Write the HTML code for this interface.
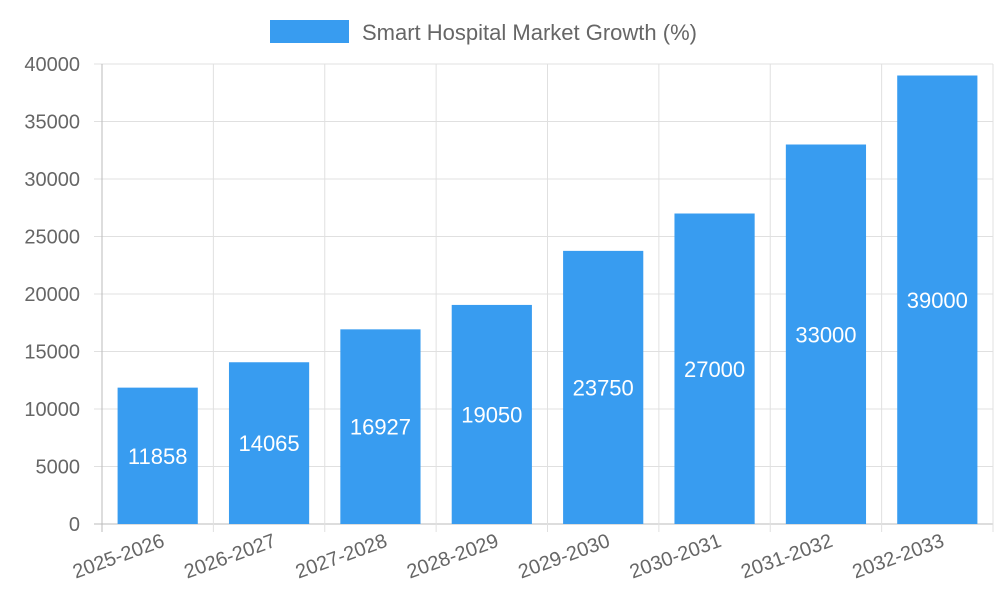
<!DOCTYPE html>
<html><head><meta charset="utf-8"><style>
body{margin:0;background:#fff;font-family:"Liberation Sans",sans-serif}
svg text{font-family:"Liberation Sans",sans-serif}
</style></head><body>
<svg id="chart" width="1000" height="600" xmlns="http://www.w3.org/2000/svg">
<g>
<rect x="270" y="20" width="79" height="23" fill="#389cf0"/>
<text x="362" y="40" font-size="22" fill="#666">Smart Hospital Market Growth (%)</text>
</g>
<g id="grid"></g><g id="bars"></g><g id="labels"></g>
</svg>
<script>
const categories=["2025-2026","2026-2027","2027-2028","2028-2029","2029-2030","2030-2031","2031-2032","2032-2033"];
const values=[11858,14065,16927,19050,23750,27000,33000,39000];
const yTicks=[0,5000,10000,15000,20000,25000,30000,35000,40000];
const L=102,R=993,T=64,B=524,yMax=40000;
const band=(R-L)/categories.length;
const x=i=>L+band*i;
const y=v=>B-(B-T)*v/yMax;
const ns="http://www.w3.org/2000/svg";
function mk(tag,attrs,parent,txt){const e=document.createElementNS(ns,tag);for(const k in attrs)e.setAttribute(k,attrs[k]);if(txt!==undefined)e.textContent=txt;document.getElementById(parent).appendChild(e);return e;}
yTicks.forEach(t=>{
 const g=mk("line",{x1:94,x2:R,y1:y(t),y2:y(t),stroke:t===0?"#bbb":"#e0e0e0","stroke-width":1},"grid");
 
 
 const tl=mk("text",{x:80,y:y(t)+7,"text-anchor":"end","font-size":20,fill:"#666"},"labels",String(t));
 
 
});
for(let i=0;i<=categories.length;i++){
 const g=mk("line",{x1:x(i),x2:x(i),y1:T,y2:B+8,stroke:i===0?"#bbb":"#e0e0e0","stroke-width":1},"grid");
 
 
}
const bw=band*0.72;
categories.forEach((c,i)=>{
 const cx=x(i)+band/2;
 const b=mk("rect",{x:cx-bw/2,y:y(values[i]),width:bw,height:B-y(values[i]),fill:"#389cf0"},"bars");
 
 
 const v=mk("text",{x:cx,y:(y(values[i])+B)/2+8,"text-anchor":"middle","font-size":22,fill:"#fff"},"labels",String(values[i]));
 
 
 const xl=mk("text",{x:0,y:0,"text-anchor":"end","font-size":20,fill:"#666",transform:`translate(${cx+8},${546}) rotate(-20)`},"labels",c);
 
 
});
</script>
</body></html>
